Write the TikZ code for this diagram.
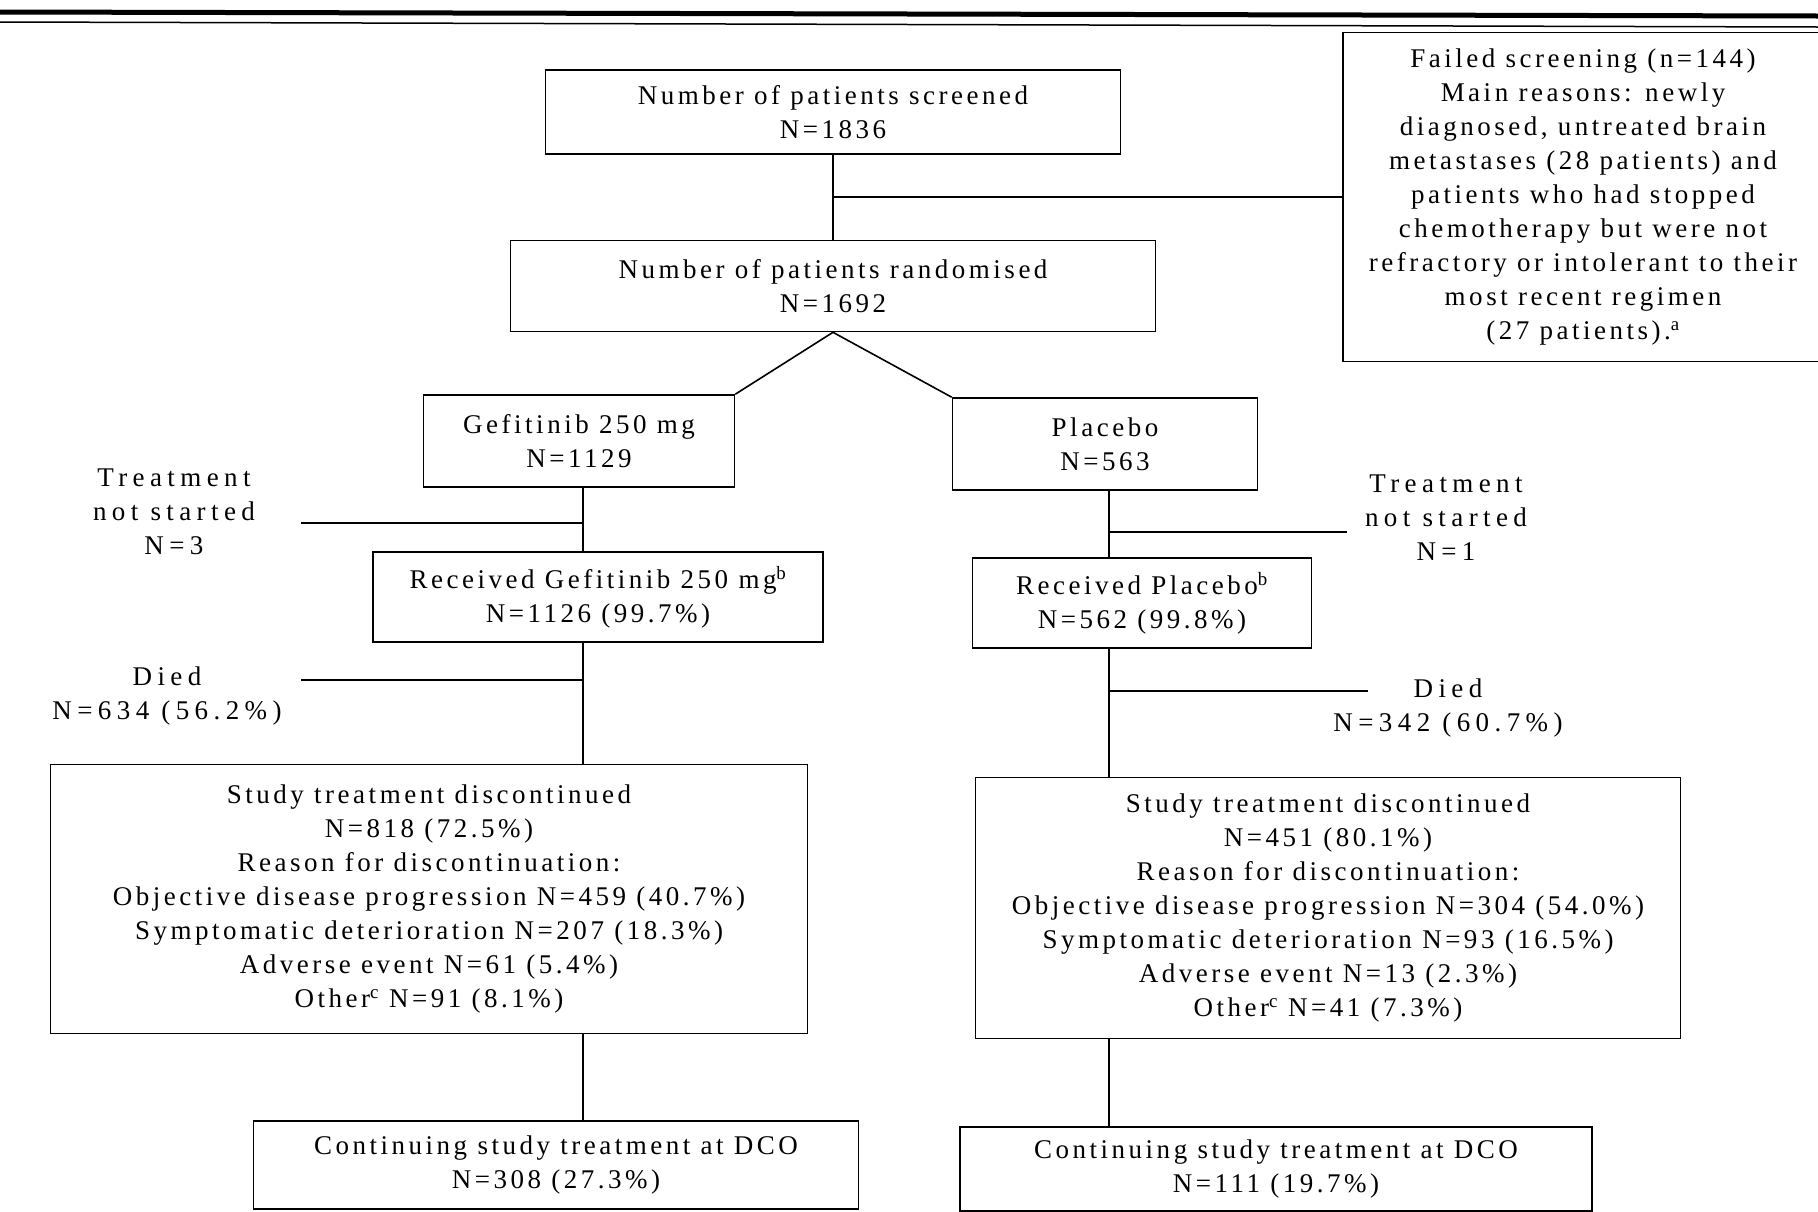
\documentclass[tikz,border=0pt]{standalone}
\usepackage{fontspec}
\setmainfont{Liberation Serif}[LetterSpace=13]
\begin{document}
\begin{tikzpicture}[x=1pt,y=-1pt,line width=1.6pt,
    box/.style={draw,align=center,inner sep=0pt,font=\fontsize{27}{34}\selectfont},
    lbl/.style={align=center,inner sep=0pt,font=\fontsize{27}{34}\selectfont\addfontfeatures{LetterSpace=20}}]
        % page size
        \useasboundingbox (0,0) rectangle (1818,1211);

        % heavy rule along the top
        \draw[line width=5pt] (0,12) -- (1818,16);
        \draw[line width=1.5pt] (0,22) -- (1818,27);

        % screening and randomisation
        \node[box,minimum width=575,minimum height=84] (screened) at (833,112)
            {Number of patients screened\\N=1836};
        \node[box,minimum width=480,minimum height=329] (failed) at (1583,197)
            {Failed screening (n=144)\\Main reasons: newly\\diagnosed, untreated brain\\
             metastases (28 patients) and\\patients who had stopped\\chemotherapy but were not\\
             refractory or intolerant to their\\most recent regimen\\(27 patients).\textsuperscript{a}};
        \node[box,minimum width=645,minimum height=91] (rand) at (833,286)
            {Number of patients randomised\\N=1692};

        % the two arms
        \node[box,minimum width=311,minimum height=92] (gef) at (579,441)
            {Gefitinib 250 mg\\N=1129};
        \node[box,minimum width=305,minimum height=92] (plac) at (1105,444)
            {Placebo\\N=563};
        \node[box,minimum width=450,minimum height=90] (recgef) at (598,597)
            {Received Gefitinib 250 mg\textsuperscript{b}\\N=1126 (99.7\%)};
        \node[box,minimum width=339,minimum height=90] (recplac) at (1142,603)
            {Received Placebo\textsuperscript{b}\\N=562 (99.8\%)};
        \node[box,minimum width=757,minimum height=269] (discgef) at (429,899)
            {Study treatment discontinued\\N=818 (72.5\%)\\Reason for discontinuation:\\
             Objective disease progression N=459 (40.7\%)\\Symptomatic deterioration N=207 (18.3\%)\\
             Adverse event N=61 (5.4\%)\\Other\textsuperscript{c} N=91 (8.1\%)};
        \node[box,minimum width=705,minimum height=261] (discplac) at (1328,908)
            {Study treatment discontinued\\N=451 (80.1\%)\\Reason for discontinuation:\\
             Objective disease progression N=304 (54.0\%)\\Symptomatic deterioration N=93 (16.5\%)\\
             Adverse event N=13 (2.3\%)\\Other\textsuperscript{c} N=41 (7.3\%)};
        \node[box,minimum width=605,minimum height=88] (contgef) at (556,1165)
            {Continuing study treatment at DCO\\N=308 (27.3\%)};
        \node[box,minimum width=632,minimum height=84] (contplac) at (1276,1169)
            {Continuing study treatment at DCO\\N=111 (19.7\%)};

        % side labels
        \node[lbl] (tnsgef) at (174,512) {Treatment\\not started\\N=3};
        \node[lbl] (diedgef) at (167,696) {Died\\N=634 (56.2\%)};
        \node[lbl] (tnsplac) at (1446,518) {Treatment\\not started\\N=1};
        \node[lbl] (diedplac) at (1448,708) {Died\\N=342 (60.7\%)};

        % where the spines run and the side lines end
        \coordinate (lspine) at (583,0);
        \coordinate (rspine) at (1109,0);
        \coordinate (tnsgefend) at (301,523);
        \coordinate (diedgefend) at (301,680);
        \coordinate (tnsplacend) at (1347,532);
        \coordinate (diedplacend) at (1368,691);

        % connectors
        \draw (screened.south) -- (rand.north);
        \draw (screened.south |- failed.west) -- (failed.west);
        \draw (rand.south) -- (gef.north east);
        \draw (rand.south) -- (plac.north west);

        \draw (lspine |- gef.south) -- (lspine |- recgef.north);
        \draw (lspine |- recgef.south) -- (lspine |- discgef.north);
        \draw (lspine |- discgef.south) -- (lspine |- contgef.north);
        \draw (tnsgefend) -- (lspine |- tnsgefend);
        \draw (diedgefend) -- (lspine |- diedgefend);

        \draw (rspine |- plac.south) -- (rspine |- recplac.north);
        \draw (rspine |- recplac.south) -- (rspine |- discplac.north);
        \draw (rspine |- discplac.south) -- (rspine |- contplac.north);
        \draw (rspine |- tnsplacend) -- (tnsplacend);
        \draw (rspine |- diedplacend) -- (diedplacend);
\end{tikzpicture}
\end{document}
